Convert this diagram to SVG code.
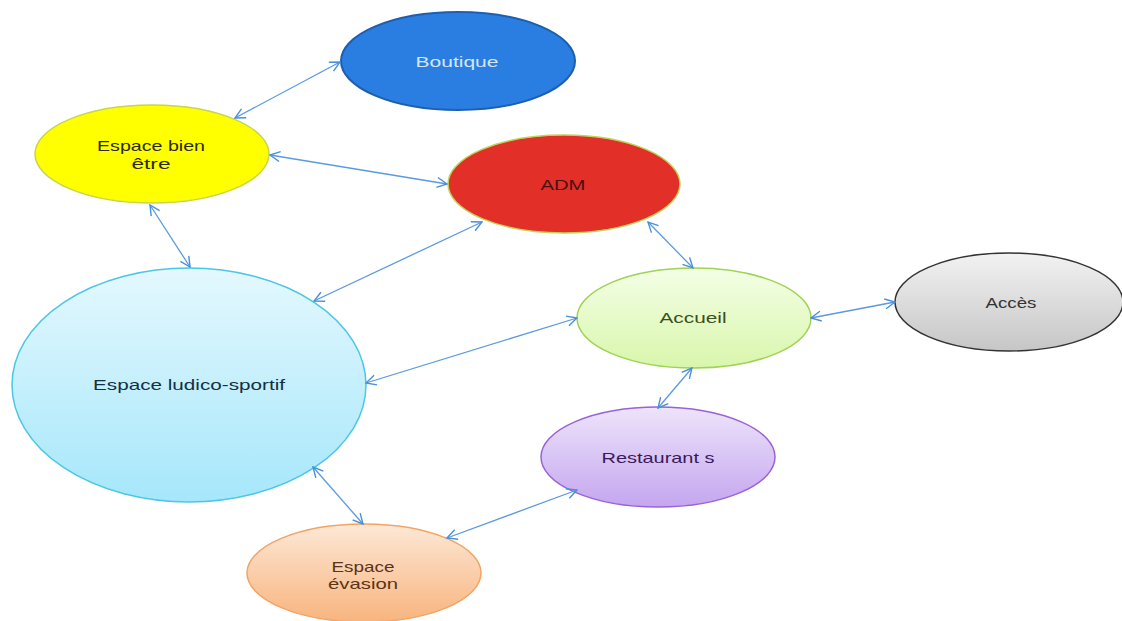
<svg xmlns="http://www.w3.org/2000/svg" width="1122" height="621" viewBox="0 0 1122 621">
<defs>
<marker id="arr" viewBox="0 0 12 12" refX="11" refY="6" markerWidth="12" markerHeight="12" markerUnits="userSpaceOnUse" orient="auto-start-reverse">
<path d="M1,1 L11,6 L1,11" fill="none" stroke="#4a8fdc" stroke-width="1.4"/>
</marker>
<linearGradient id="gAcc" x1="0" y1="0" x2="0" y2="1"><stop offset="0" stop-color="#f3ffe6"/><stop offset="1" stop-color="#d9f6ac"/></linearGradient>
<linearGradient id="gAcs" x1="0" y1="0" x2="0" y2="1"><stop offset="0" stop-color="#f2f2f2"/><stop offset="1" stop-color="#c6c6c6"/></linearGradient>
<linearGradient id="gLud" x1="0" y1="0" x2="0" y2="1"><stop offset="0" stop-color="#e4f8fe"/><stop offset="1" stop-color="#a6e7fb"/></linearGradient>
<linearGradient id="gRes" x1="0" y1="0" x2="0" y2="1"><stop offset="0" stop-color="#eee4fb"/><stop offset="1" stop-color="#c4a6ef"/></linearGradient>
<linearGradient id="gEva" x1="0" y1="0" x2="0" y2="1"><stop offset="0" stop-color="#fde8d6"/><stop offset="1" stop-color="#f8b47e"/></linearGradient>
</defs>
<style>
.lbl{font-family:"Liberation Sans",Arial,sans-serif;font-size:15px;text-anchor:middle}
.con line{stroke:#5a9ae0;stroke-width:1.3;marker-start:url(#arr);marker-end:url(#arr)}
</style>
<rect width="1122" height="621" fill="#ffffff"/>
<g id="n-boutique">
<ellipse cx="458" cy="61" rx="117" ry="49" fill="#2a7de1" stroke="#1d5fae" stroke-width="2"/>
<text class="lbl" x="457" y="67" fill="#d5e6f8" textLength="83" lengthAdjust="spacingAndGlyphs">Boutique</text>
</g>
<g id="n-bienetre">
<ellipse cx="152" cy="154" rx="117" ry="49" fill="#ffff00" stroke="#c6d64c" stroke-width="1.5"/>
<text class="lbl" x="151" y="151" fill="#2a2a10" textLength="108" lengthAdjust="spacingAndGlyphs">Espace bien</text>
<text class="lbl" x="151" y="169" fill="#2a2a10" textLength="39" lengthAdjust="spacingAndGlyphs">être</text>
</g>
<g id="n-adm">
<ellipse cx="564" cy="184" rx="116" ry="49" fill="#e22f28" stroke="#bcd45a" stroke-width="1.5"/>
<text class="lbl" x="563" y="190" fill="#4a1010" textLength="45" lengthAdjust="spacingAndGlyphs">ADM</text>
</g>
<g id="n-accueil">
<ellipse cx="694" cy="318" rx="117" ry="50" fill="url(#gAcc)" stroke="#9ed353" stroke-width="1.5"/>
<text class="lbl" x="693" y="323" fill="#3a5020" textLength="67" lengthAdjust="spacingAndGlyphs">Accueil</text>
</g>
<g id="n-acces">
<ellipse cx="1009" cy="302" rx="114" ry="49" fill="url(#gAcs)" stroke="#333333" stroke-width="1.5"/>
<text class="lbl" x="1011" y="308" fill="#333333" textLength="51" lengthAdjust="spacingAndGlyphs">Accès</text>
</g>
<g id="n-ludico">
<ellipse cx="189" cy="385" rx="177" ry="117" fill="url(#gLud)" stroke="#4cc6e6" stroke-width="1.5"/>
<text class="lbl" x="189" y="390" fill="#143040" textLength="192" lengthAdjust="spacingAndGlyphs">Espace ludico-sportif</text>
</g>
<g id="n-restaurants">
<ellipse cx="658" cy="457" rx="117" ry="50" fill="url(#gRes)" stroke="#9a62d8" stroke-width="1.5"/>
<text class="lbl" x="658" y="463" fill="#3a1a5a" textLength="113" lengthAdjust="spacingAndGlyphs">Restaurant s</text>
</g>
<g id="n-evasion">
<ellipse cx="364" cy="573" rx="117" ry="49" fill="url(#gEva)" stroke="#f2a464" stroke-width="1.5"/>
<text class="lbl" x="363" y="572" fill="#5a3414" textLength="63" lengthAdjust="spacingAndGlyphs">Espace</text>
<text class="lbl" x="363" y="589" fill="#5a3414" textLength="70" lengthAdjust="spacingAndGlyphs">évasion</text>
</g>
<g id="connectors" class="con">
<line x1="340" y1="62" x2="235" y2="118"/>
<line x1="270" y1="155" x2="447" y2="184"/>
<line x1="150" y1="205" x2="190" y2="267"/>
<line x1="482" y1="222" x2="314" y2="301"/>
<line x1="648" y1="222" x2="693" y2="268"/>
<line x1="577" y1="318" x2="366" y2="383"/>
<line x1="811" y1="318" x2="895" y2="302"/>
<line x1="692" y1="368" x2="658" y2="408"/>
<line x1="313" y1="467" x2="363" y2="524"/>
<line x1="577" y1="490" x2="447" y2="538"/>
</g>
</svg>
